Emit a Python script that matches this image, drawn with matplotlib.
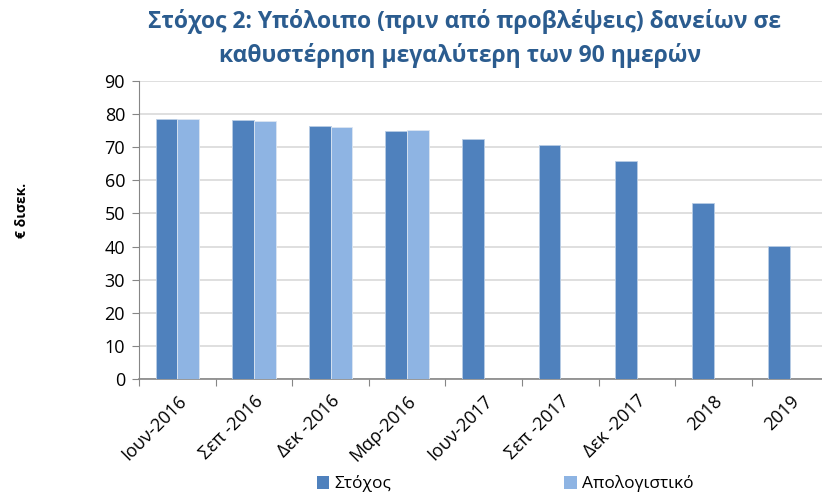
import numpy as np
import matplotlib
matplotlib.use("Agg")
import matplotlib.pyplot as plt
from matplotlib.patches import Patch

plt.rcParams['font.family'] = ['Open Sans', 'DejaVu Sans']

categories = ['Ιουν-2016', 'Σεπ -2016', 'Δεκ -2016', 'Μαρ-2016', 'Ιουν-2017',
              'Σεπ -2017', 'Δεκ -2017', '2018', '2019']
target = [78.4, 78.1, 76.3, 74.8, 72.4, 70.6, 65.9, 53.1, 40.3]
actual = [78.4, 77.8, 75.9, 75.2]

c_target = '#4F81BD'
c_actual = '#8EB4E3'

fig = plt.figure(figsize=(8.22, 4.93), dpi=100)
ax = fig.add_axes([139 / 822, 113.7 / 493, 689.4 / 822, 0.6057])

x = np.arange(len(categories))
w = 0.283
ax.bar(x - w / 2, target, w, color=c_target, edgecolor='#B9CDE5', linewidth=0.6, zorder=3)
ax.bar(x[:len(actual)] + w / 2, actual, w, color=c_actual, edgecolor='#DCE6F2', linewidth=0.6, zorder=3)

ax.set_xlim(-0.5, len(categories) - 0.5)
ax.set_ylim(0, 90)
ax.set_yticks(range(0, 91, 10))
ax.yaxis.grid(True, color='#D9D9D9', linewidth=1.2, zorder=0)
ax.tick_params(axis='y', length=5, color='#868686', labelsize=13, pad=5)

# category boundaries as ticks, labels at centres
ax.set_xticks(np.arange(len(categories)) - 0.5)
ax.set_xticklabels([])
ax.set_xticks(x, minor=True)
ax.set_xticklabels(categories, minor=True, rotation=45, ha='right',
                   rotation_mode='anchor', fontsize=13)
ax.tick_params(axis='x', which='major', length=5, color='#868686', direction='out')
ax.tick_params(axis='x', which='minor', length=0, pad=9)

for s in ['top', 'right']:
    ax.spines[s].set_visible(False)
ax.spines['left'].set_color('#868686')
ax.spines['bottom'].set_color('#868686')
ax.spines['bottom'].set_linewidth(1.2)

title_color = '#2B5C8F'
fig.text(0.565, 1 - 22 / 493, 'Στόχος 2: Υπόλοιπο (πριν από προβλέψεις) δανείων σε',
         ha='center', va='center', fontsize=16.5, fontweight='bold', color=title_color)
fig.text(0.56, 1 - 55 / 493, 'καθυστέρηση μεγαλύτερη των 90 ημερών',
         ha='center', va='center', fontsize=16.5, fontweight='bold', color=title_color)
fig.text(22 / 822, 1 - 210 / 493, '€ δισεκ.', rotation=90, ha='center', va='center',
         fontsize=10, fontweight='bold')

handles = [Patch(facecolor=c_target), Patch(facecolor=c_actual)]
fig.legend(handles, ['Στόχος', 'Απολογιστικό'], loc='center', bbox_to_anchor=(505 / 822, 1 - 484 / 493),
           ncol=2, frameon=False, fontsize=12.5, handlelength=0.7, handleheight=0.7,
           handletextpad=0.3, columnspacing=10)

fig.savefig('out.png', dpi=100)
